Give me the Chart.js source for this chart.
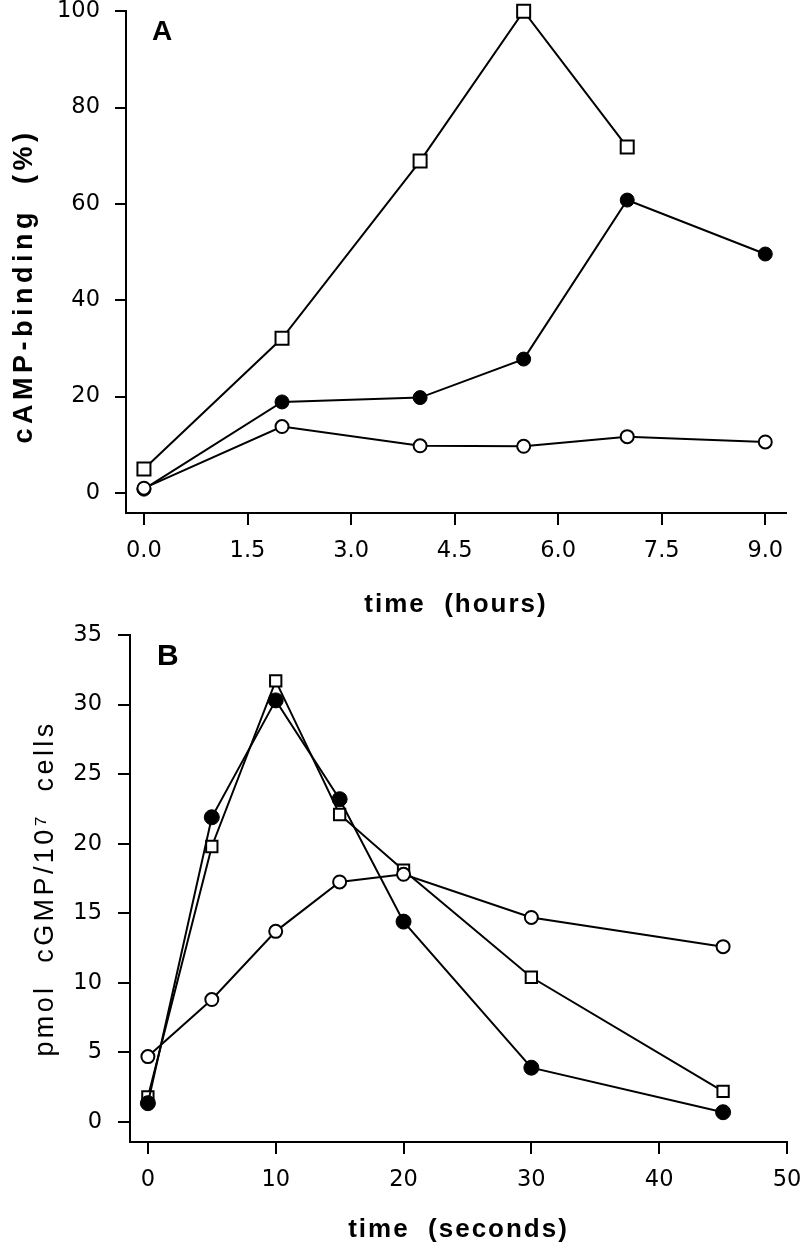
<!DOCTYPE html>
<html>
<head>
<meta charset="utf-8">
<script src="https://cdn.jsdelivr.net/npm/chart.js@4.4.1/dist/chart.umd.min.js"></script>
<style>
  html, body { margin: 0; padding: 0; background: #fff; }
  canvas { display: block; }
</style>
</head>
<body>
<canvas id="chartA" width="800" height="620"></canvas>
<canvas id="chartB" width="800" height="628"></canvas>
<script>
// Panel A: cAMP-binding vs time (hours)
const hoursA = [0, 2, 4, 5.5, 7, 9]
const squareA = [5, 32.1, 68.9, 100, 71.8]
const filledA = [0.8, 18.9, 19.8, 27.8, 60.8, 49.6]
const openA = [1, 13.8, 9.8, 9.7, 11.7, 10.6]
const xTicksA = [0, 1.5, 3, 4.5, 6, 7.5, 9]
const yTicksA = [0, 20, 40, 60, 80, 100]

// Panel B: cGMP vs time (seconds)
const secondsB = [0, 5, 10, 15, 20, 30, 45]
const squareB = [1.8, 19.8, 31.7, 22.1, 18.1, 10.4, 2.2]
const filledB = [1.35, 21.9, 30.3, 23.2, 14.4, 3.9, 0.7]
const openB = [4.7, 8.8, 13.7, 17.25, 17.8, 14.7, 12.6]
const xTicksB = [0, 10, 20, 30, 40, 50]
const yTicksB = [0, 5, 10, 15, 20, 25, 30, 35]

const FONT = "'Liberation Sans', Arial, Helvetica, sans-serif"
const TICK_FONT = { family: "'DejaVu Sans', sans-serif", size: 22.5 }

function pts(xs, ys) {
  return ys.map((y, i) => ({ x: xs[i], y: y }))
}

// scale titles in the figure are letter-spaced
const spacedTitles = {
  id: "spacedTitles",
  afterUpdate(chart, args, opts) {
    Object.values(chart.scales).forEach((scale) => {
      if (scale._spacedTitle) return
      const drawTitle = scale.drawTitle
      scale.drawTitle = function () {
        this.ctx.save()
        this.ctx.letterSpacing = (opts[this.id] || 0) + "px"
        drawTitle.call(this)
        this.ctx.restore()
      }
      scale._spacedTitle = true
    })
  },
}

const panelLetter = {
  id: "panelLetter",
  afterDraw(chart, args, opts) {
    const ctx = chart.ctx
    ctx.save()
    ctx.font = "bold " + opts.size + "px " + FONT
    ctx.fillStyle = "#000"
    ctx.textBaseline = "alphabetic"
    ctx.fillText(opts.text, opts.x, opts.y)
    ctx.restore()
  },
}

function series(open, filled, square, xs, sizes) {
  return [
    {
      label: "open",
      data: pts(xs, open),
      borderColor: "#000",
      borderWidth: 2,
      pointStyle: "circle",
      pointRadius: sizes.open,
      pointBorderWidth: 2,
      pointBackgroundColor: "#fff",
      pointBorderColor: "#000",
      clip: false,
    },
    {
      label: "filled",
      data: pts(xs, filled),
      borderColor: "#000",
      borderWidth: 2,
      pointStyle: "circle",
      pointRadius: sizes.filled,
      pointBorderWidth: 1,
      pointBackgroundColor: "#000",
      pointBorderColor: "#000",
      clip: false,
    },
    {
      label: "square",
      data: pts(xs, square),
      borderColor: "#000",
      borderWidth: 2,
      pointStyle: "rect",
      pointRadius: sizes.square,
      pointBorderWidth: 2,
      pointBackgroundColor: "#fff",
      pointBorderColor: "#000",
      clip: false,
    },
  ]
}

function axisGrid(len) {
  return { display: true, drawOnChartArea: false, drawTicks: true, tickLength: len, lineWidth: 2, color: "#000" }
}

document.addEventListener("DOMContentLoaded", () => {
  const ctxA = document.getElementById("chartA")

  new Chart(ctxA, {
    type: "line",
    data: { datasets: series(openA, filledA, squareA, hoursA, { open: 6.5, filled: 7, square: 9.2 }) },
    plugins: [spacedTitles, panelLetter],
    options: {
      responsive: false,
      animation: false,
      layout: { padding: { top: 11, right: 14, left: 0, bottom: 0 } },
      scales: {
        x: {
          type: "linear",
          min: -0.26,
          max: 9.3,
          afterBuildTicks: (s) => { s.ticks = xTicksA.map((v) => ({ value: v })) },
          afterFit: (s) => { s.height = 107; s.paddingLeft = 0; s.paddingRight = 0 },
          grid: axisGrid(12),
          border: { display: true, color: "#000", width: 2 },
          ticks: { color: "#000", padding: 13, autoSkip: false, maxRotation: 0, font: TICK_FONT, callback: (v) => v.toFixed(1) },
          title: { display: true, text: "time  (hours)", color: "#000", font: { family: FONT, size: 26, weight: "bold" }, padding: { top: 0, bottom: 0 } },
        },
        y: {
          type: "linear",
          min: -4.15,
          max: 100,
          afterBuildTicks: (s) => { s.ticks = yTicksA.map((v) => ({ value: v })) },
          afterFit: (s) => { s.width = 126; s.paddingTop = 0; s.paddingBottom = 0 },
          grid: axisGrid(11),
          border: { display: true, color: "#000", width: 2 },
          ticks: { color: "#000", padding: 15, font: TICK_FONT },
          title: { display: true, text: "cAMP-binding  (%)    ", color: "#000", font: { family: FONT, size: 27, weight: "bold" }, padding: { top: 8, bottom: 0 } },
        },
      },
      plugins: {
        legend: { display: false },
        tooltip: { enabled: false },
        spacedTitles: { x: 2, y: 4.5 },
        panelLetter: { text: "A", x: 152, y: 40, size: 28 },
      },
    },
  })

  const ctxB = document.getElementById("chartB")

  new Chart(ctxB, {
    type: "line",
    data: { datasets: series(openB, filledB, squareB, secondsB, { open: 6.5, filled: 7.5, square: 8 }) },
    plugins: [spacedTitles, panelLetter],
    options: {
      responsive: false,
      animation: false,
      layout: { padding: { top: 15, right: 13, left: 0, bottom: 0 } },
      scales: {
        x: {
          type: "linear",
          min: -1.4,
          max: 50,
          afterBuildTicks: (s) => { s.ticks = xTicksB.map((v) => ({ value: v })) },
          afterFit: (s) => { s.height = 106; s.paddingLeft = 0; s.paddingRight = 0 },
          grid: axisGrid(12),
          border: { display: true, color: "#000", width: 2 },
          ticks: { color: "#000", padding: 13, autoSkip: false, maxRotation: 0, font: TICK_FONT },
          title: { display: true, text: "time  (seconds)", color: "#000", font: { family: FONT, size: 26, weight: "bold" }, padding: { top: 0, bottom: 3 } },
        },
        y: {
          type: "linear",
          min: -1.44,
          max: 35,
          afterBuildTicks: (s) => { s.ticks = yTicksB.map((v) => ({ value: v })) },
          afterFit: (s) => { s.width = 130; s.paddingTop = 0; s.paddingBottom = 0 },
          grid: axisGrid(12),
          border: { display: true, color: "#000", width: 2 },
          ticks: { color: "#000", padding: 16, font: TICK_FONT },
          title: { display: true, text: "pmol  cGMP/10\u2077  cells", color: "#000", font: { family: FONT, size: 27 }, padding: { top: 29, bottom: 0 } },
        },
      },
      plugins: {
        legend: { display: false },
        tooltip: { enabled: false },
        spacedTitles: { x: 2, y: 3.4 },
        panelLetter: { text: "B", x: 157, y: 45, size: 30 },
      },
    },
  })
})
</script>
</body>
</html>
